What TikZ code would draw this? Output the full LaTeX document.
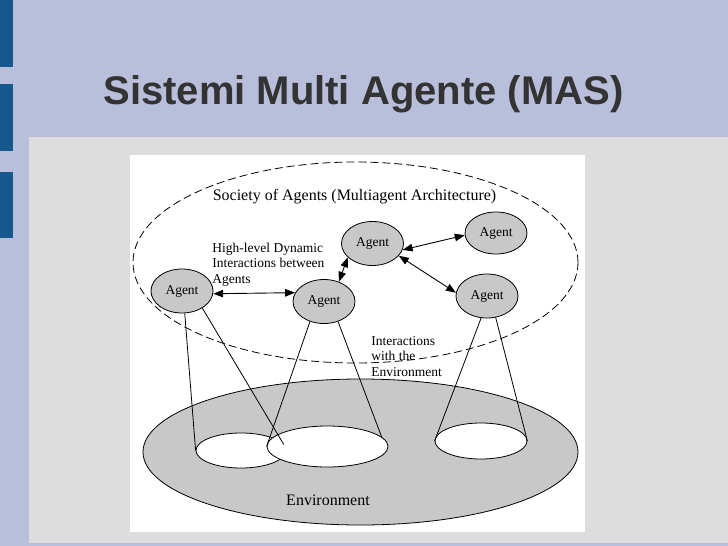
\documentclass[tikz,border=0pt]{standalone}
\usepackage{fontspec}
\setmainfont{Liberation Serif}
\newfontfamily\titlefont{Liberation Sans}
\usepackage{xcolor}
\usetikzlibrary{shapes.geometric,arrows.meta}
\definecolor{slidebg}{RGB}{185,190,218}
\definecolor{slidebar}{RGB}{22,88,140}
\definecolor{panelgray}{RGB}{221,221,221}
\definecolor{agentgray}{RGB}{200,200,200}
\definecolor{titlegray}{RGB}{51,51,51}

\begin{document}
\begin{tikzpicture}[x=1pt, y=-1pt, line width=0.8pt,
  agent/.style={ellipse, draw, fill=agentgray, inner sep=0pt, minimum width=62pt, minimum height=44pt, font=\fontsize{13.5}{15}\selectfont},
  hole/.style={ellipse, draw, fill=white, inner sep=0pt},
  link/.style={line width=0.9pt, {Triangle[length=10pt,width=7.5pt]}-{Triangle[length=10pt,width=7.5pt]}},
  note/.style={anchor=base west, align=left, inner sep=0pt, font=\fontsize{13.5}{15.5}\selectfont}]
% Slide background and panels
\fill[slidebg] (0,0) rectangle (728,546);
\foreach \ya/\yb in {0/67, 84/151, 172/238}
  \fill[slidebar] (0,\ya) rectangle (13,\yb);
\fill[panelgray] (29,137) rectangle (728,543);
\fill[white] (130,155) rectangle (585,532);
\useasboundingbox (0,0) rectangle (728,546);

\node[anchor=base west, inner sep=0pt, text=titlegray, font=\titlefont\bfseries\fontsize{40}{44}\selectfont] (title) at (103,104) {Sistemi Multi Agente (MAS)};

% Society and environment
\node[ellipse, draw, dash pattern=on 8pt off 4pt, inner sep=0pt, minimum width=445pt, minimum height=201pt] (soc) at (355.5,262.5) {};
\node[anchor=base, font=\fontsize{16}{18}\selectfont] (soctext) at (354.5,200) {Society of Agents (Multiagent Architecture)};
\node[ellipse, draw, fill=agentgray, inner sep=0pt, minimum width=435pt, minimum height=146pt] (env) at (360.5,452) {};
\node[anchor=base, font=\fontsize{16}{18}\selectfont] (envtext) at (328,505) {Environment};

% Regions of the environment
\node[hole, minimum width=90pt, minimum height=35pt] (w1) at (241,450.5) {};
\node[hole, minimum width=121pt, minimum height=41pt] (w2) at (327.5,446.5) {};
\node[hole, minimum width=92pt, minimum height=36pt] (w3) at (481,441) {};

% Agents
\node[agent] (a1) at (182,291) {Agent};
\node[agent] (a2) at (324,301.5) {Agent};
\node[agent] (a3) at (372.5,243.5) {Agent};
\node[agent, minimum height=42pt] (a4) at (496,233) {Agent};
\node[agent] (a5) at (487,296) {Agent};

% Agent to agent interactions
\draw[link] (a1.-5) -- (a2.163);
\draw[link] (a2.53) -- (a3.209);
\draw[link] (a3.-12) -- (a4.184);
\draw[link] (a3.-25) -- (a5.174);

% Cones down to the environment
\draw (a1.-83) -- (w1.west);
\draw (a1.-40) -- (w1.8);
\draw (a2.-125) -- (w2.west);
\draw (a2.-55) -- (w2.10);
\draw (a5.-105) -- (w3.west);
\draw (a5.-68) -- (w3.east);

% Notes (base is the last line)
\node[note] (hlnote) at (212,283) {High-level Dynamic\\Interactions between\\Agents};
\node[note] (envnote) at (371,376) {Interactions\\with the\\Environment};
\end{tikzpicture}
\end{document}
